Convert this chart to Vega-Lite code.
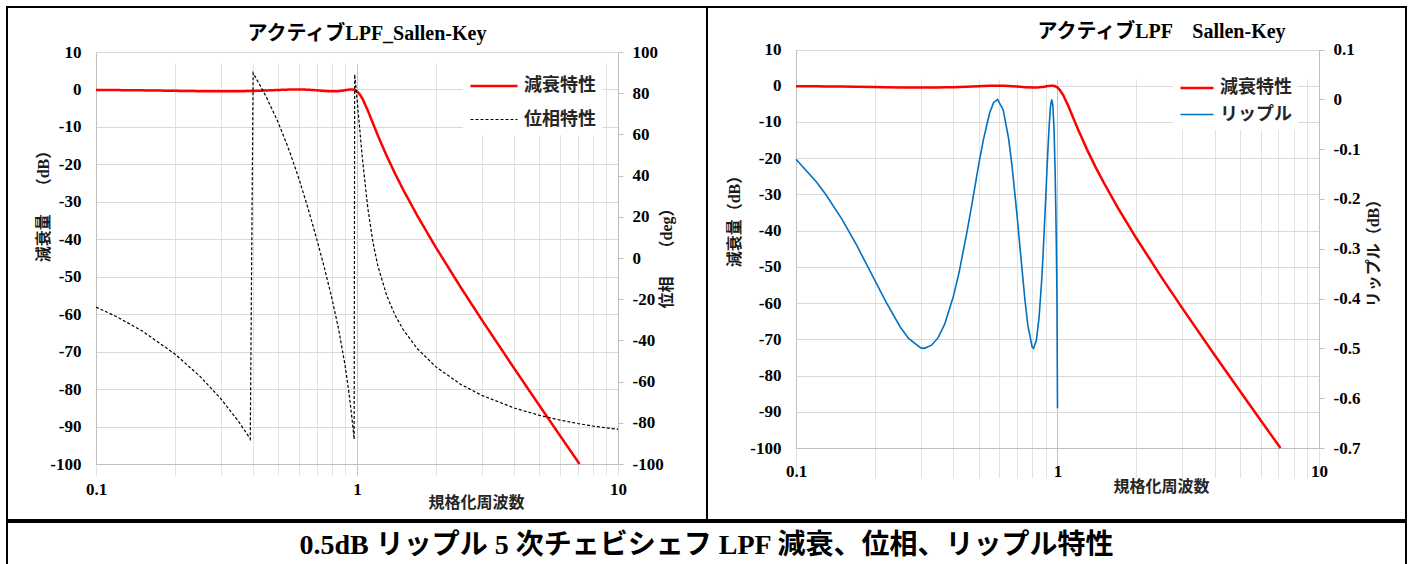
{
  "$schema": "https://vega.github.io/schema/vega-lite/v6.json",
  "background": "white",
  "padding": {"left": 6, "top": 6, "right": 8, "bottom": 0},
  "spacing": 0,
  "config": {
    "view": {"stroke": "#000000", "strokeWidth": 2},
    "axis": {"labelFont": "Liberation Serif", "labelFontSize": 17, "labelFontWeight": "bold", "labelColor": "#000000", "domainColor": "#bfbfbf", "domainWidth": 1, "gridColor": "#d9d9d9", "gridWidth": 1, "tickColor": "#bfbfbf", "titleColor": "#1a1a1a", "titleFont": "Liberation Serif, Noto Sans CJK JP", "titleFontSize": 16, "titleFontWeight": "bold"},
    "legend": {"labelFont": "Noto Sans CJK JP", "labelFontSize": 17, "labelFontWeight": "bold", "labelColor": "#262626", "fillColor": "#ffffff", "padding": 6, "labelOffset": 5, "symbolType": "stroke"}
  },
  "datasets": {
    "atten": [
      {"f": 0.1, "dB": -0.12}, {"f": 0.12, "dB": -0.17}, {"f": 0.13, "dB": -0.19}, {"f": 0.15, "dB": -0.24}, {"f": 0.17, "dB": -0.29},
      {"f": 0.2, "dB": -0.36}, {"f": 0.22, "dB": -0.41}, {"f": 0.25, "dB": -0.46}, {"f": 0.27, "dB": -0.48}, {"f": 0.3, "dB": -0.5},
      {"f": 0.31, "dB": -0.5}, {"f": 0.33, "dB": -0.49}, {"f": 0.35, "dB": -0.48}, {"f": 0.37, "dB": -0.45}, {"f": 0.4, "dB": -0.4},
      {"f": 0.42, "dB": -0.35}, {"f": 0.45, "dB": -0.27}, {"f": 0.47, "dB": -0.21}, {"f": 0.5, "dB": -0.13}, {"f": 0.52, "dB": -0.08},
      {"f": 0.55, "dB": -0.03}, {"f": 0.57, "dB": -0.01}, {"f": 0.59, "dB": 0}, {"f": 0.62, "dB": -0.02}, {"f": 0.65, "dB": -0.08},
      {"f": 0.67, "dB": -0.13}, {"f": 0.7, "dB": -0.23}, {"f": 0.72, "dB": -0.3}, {"f": 0.75, "dB": -0.4}, {"f": 0.77, "dB": -0.45},
      {"f": 0.8, "dB": -0.5}, {"f": 0.81, "dB": -0.5}, {"f": 0.83, "dB": -0.48}, {"f": 0.85, "dB": -0.44}, {"f": 0.87, "dB": -0.36},
      {"f": 0.88, "dB": -0.32}, {"f": 0.9, "dB": -0.21}, {"f": 0.91, "dB": -0.15}, {"f": 0.92, "dB": -0.1}, {"f": 0.93, "dB": -0.05},
      {"f": 0.94, "dB": -0.02}, {"f": 0.95, "dB": 0}, {"f": 0.96, "dB": -0.01}, {"f": 0.97, "dB": -0.06}, {"f": 0.98, "dB": -0.15},
      {"f": 0.99, "dB": -0.3}, {"f": 1.0, "dB": -0.5}, {"f": 1.02, "dB": -1.11}, {"f": 1.05, "dB": -2.49}, {"f": 1.1, "dB": -5.61},
      {"f": 1.15, "dB": -8.97}, {"f": 1.2, "dB": -12.16}, {"f": 1.3, "dB": -17.77}, {"f": 1.4, "dB": -22.52}, {"f": 1.5, "dB": -26.65},
      {"f": 1.7, "dB": -33.63}, {"f": 2, "dB": -42.04}, {"f": 2.5, "dB": -52.89}, {"f": 3, "dB": -61.4}, {"f": 4, "dB": -74.46},
      {"f": 5, "dB": -84.4}, {"f": 6, "dB": -92.46}, {"f": 7, "dB": -99.23}, {"f": 7.125, "dB": -100}
    ],
    "phase": [
      {"f": 0.1, "deg": -23.84}, {"f": 0.12, "deg": -28.48}, {"f": 0.15, "deg": -35.34}, {"f": 0.2, "deg": -46.49}, {"f": 0.25, "deg": -57.38},
      {"f": 0.3, "deg": -68.15}, {"f": 0.35, "deg": -79.0}, {"f": 0.38, "deg": -85.64}, {"f": 0.39, "deg": -87.91}, {"f": 0.4, "deg": 89.83},
      {"f": 0.45, "deg": 78.05}, {"f": 0.5, "deg": 65.53}, {"f": 0.55, "deg": 52.23}, {"f": 0.6, "deg": 38.24}, {"f": 0.65, "deg": 23.89},
      {"f": 0.7, "deg": 9.49}, {"f": 0.75, "deg": -4.77}, {"f": 0.8, "deg": -19.17}, {"f": 0.85, "deg": -34.44}, {"f": 0.9, "deg": -52.09},
      {"f": 0.93, "deg": -64.78}, {"f": 0.95, "deg": -74.45}, {"f": 0.96, "deg": -79.66}, {"f": 0.97, "deg": -85.15}, {"f": 0.975, "deg": -87.96},
      {"f": 0.98, "deg": 89.16}, {"f": 0.99, "deg": 83.27}, {"f": 1.0, "deg": 77.25}, {"f": 1.02, "deg": 65.09}, {"f": 1.05, "deg": 47.72},
      {"f": 1.1, "deg": 24.29}, {"f": 1.15, "deg": 7.98}, {"f": 1.2, "deg": -3.45}, {"f": 1.3, "deg": -18.31}, {"f": 1.4, "deg": -27.79},
      {"f": 1.5, "deg": -34.59}, {"f": 1.7, "deg": -43.93}, {"f": 2, "deg": -52.73}, {"f": 2.5, "deg": -61.37}, {"f": 3, "deg": -66.63},
      {"f": 4, "deg": -72.8}, {"f": 5, "deg": -76.37}, {"f": 6, "deg": -78.68}, {"f": 7, "deg": -80.34}, {"f": 8, "deg": -81.55}, {"f": 10, "deg": -83.2}
    ],
    "ripple": [
      {"f": 0.1, "r": -0.1205}, {"f": 0.12, "r": -0.1664}, {"f": 0.13, "r": -0.191}, {"f": 0.15, "r": -0.241}, {"f": 0.17, "r": -0.2914},
      {"f": 0.2, "r": -0.3629}, {"f": 0.22, "r": -0.405}, {"f": 0.25, "r": -0.4566}, {"f": 0.27, "r": -0.4805}, {"f": 0.3, "r": -0.499},
      {"f": 0.31, "r": -0.4999}, {"f": 0.33, "r": -0.4936}, {"f": 0.35, "r": -0.478}, {"f": 0.37, "r": -0.4518}, {"f": 0.4, "r": -0.3951},
      {"f": 0.42, "r": -0.3484}, {"f": 0.45, "r": -0.2682}, {"f": 0.47, "r": -0.2122}, {"f": 0.5, "r": -0.1303}, {"f": 0.52, "r": -0.0824},
      {"f": 0.55, "r": -0.0274}, {"f": 0.57, "r": -0.0063}, {"f": 0.59, "r": -0.0001}, {"f": 0.62, "r": -0.0214}, {"f": 0.65, "r": -0.0783},
      {"f": 0.67, "r": -0.133}, {"f": 0.7, "r": -0.2321}, {"f": 0.72, "r": -0.3021}, {"f": 0.75, "r": -0.4009}, {"f": 0.77, "r": -0.4534},
      {"f": 0.8, "r": -0.4972}, {"f": 0.81, "r": -0.5}, {"f": 0.83, "r": -0.4842}, {"f": 0.85, "r": -0.4387}, {"f": 0.87, "r": -0.3631},
      {"f": 0.88, "r": -0.3153}, {"f": 0.9, "r": -0.2067}, {"f": 0.91, "r": -0.1497}, {"f": 0.92, "r": -0.0961}, {"f": 0.93, "r": -0.0494},
      {"f": 0.94, "r": -0.0151}, {"f": 0.95, "r": 0}, {"f": 0.96, "r": -0.0121}, {"f": 0.97, "r": -0.0595}, {"f": 0.98, "r": -0.1512},
      {"f": 0.985, "r": -0.2162}, {"f": 0.99, "r": -0.2954}, {"f": 0.995, "r": -0.3898}, {"f": 1.0, "r": -0.62}
    ],
    "caption": [{"text": "0.5dB リップル 5 次チェビシェフ LPF 減衰、位相、リップル特性"}]
  },
  "vconcat": [
    {
      "hconcat": [
        {
          "width": 700,
          "height": 513,
          "title": {"text": "アクティブLPF_Sallen-Key", "font": "Liberation Serif, Noto Sans CJK JP", "fontSize": 20, "fontWeight": "bold", "color": "#000000", "anchor": "middle", "frame": "group", "dx": 10, "offset": -47, "baseline": "middle"},
          "layer": [
            {
              "data": {"name": "atten"},
              "mark": {"type": "line"},
              "encoding": {
                "x": {"field": "f", "type": "quantitative",
                  "scale": {"type": "log", "domain": [0.1, 10], "range": [89, 611], "nice": false},
                  "axis": {"orient": "bottom", "offset": -56, "values": [0.1, 0.2, 0.3, 0.4, 0.5, 0.6, 0.7, 0.8, 0.9, 1, 2, 3, 4, 5, 6, 7, 8, 9, 10],
                    "labelExpr": "datum.value == 0.1 ? '0.1' : datum.value == 1 ? '1' : datum.value == 10 ? '10' : ''",
                    "grid": true, "gridColor": {"condition": {"test": "datum.value == 1", "value": "#c4c4c4"}, "value": "#e2e2e2"},
                    "ticks": false, "tickSize": 0, "labelPadding": 17, "labelFlush": false, "labelOverlap": false,
                    "title": "規格化周波数", "titleX": 469, "titleY": 38, "titleAlign": "center", "titleBaseline": "middle",
                    "titleFont": "Noto Sans CJK JP", "titleFontSize": 16, "titleFontWeight": "bold", "titleColor": "#262626"}},
                "y": {"field": "dB", "type": "quantitative",
                  "scale": {"domain": [-100, 10], "range": [457, 45], "nice": false, "zero": false},
                  "axis": {"orient": "left", "offset": -89, "values": [10, 0, -10, -20, -30, -40, -50, -60, -70, -80, -90, -100],
                    "labelExpr": "replace(format(datum.value, '~g'), '\u2212', '-')",
                    "grid": true, "ticks": false, "tickSize": 0, "labelPadding": 15,
                    "title": "減衰量　 （dB）", "titleAngle": 270, "titleX": -53, "titleY": 195, "titleAlign": "center", "titleBaseline": "middle"}},
                "color": {"datum": "減衰特性", "type": "nominal",
                  "scale": {"domain": ["減衰特性", "位相特性"], "range": ["#ff0000", "#000000"]},
                  "legend": {"title": null, "orient": "none", "legendX": 456, "legendY": 48, "symbolSize": 2209, "rowPadding": -16, "labelFontSize": 18}},
                "strokeDash": {"datum": "減衰特性", "type": "nominal",
                  "scale": {"domain": ["減衰特性", "位相特性"], "range": [[1, 0], [3, 2]]}},
                "strokeWidth": {"datum": "減衰特性", "type": "nominal",
                  "scale": {"domain": ["減衰特性", "位相特性"], "range": [2.5, 1.2]}}
              }
            },
            {
              "data": {"name": "phase"},
              "mark": {"type": "line"},
              "encoding": {
                "x": {"field": "f", "type": "quantitative",
                  "scale": {"type": "log", "domain": [0.1, 10], "range": [89, 611], "nice": false},
                  "axis": {"orient": "bottom", "offset": -56, "values": [0.1, 0.2, 0.3, 0.4, 0.5, 0.6, 0.7, 0.8, 0.9, 1, 2, 3, 4, 5, 6, 7, 8, 9, 10],
                    "labelExpr": "datum.value == 0.1 ? '0.1' : datum.value == 1 ? '1' : datum.value == 10 ? '10' : ''",
                    "grid": true, "gridColor": {"condition": {"test": "datum.value == 1", "value": "#c4c4c4"}, "value": "#e2e2e2"},
                    "ticks": false, "tickSize": 0, "labelPadding": 17, "labelFlush": false, "labelOverlap": false,
                    "title": "規格化周波数", "titleX": 469, "titleY": 38, "titleAlign": "center", "titleBaseline": "middle",
                    "titleFont": "Noto Sans CJK JP", "titleFontSize": 16, "titleFontWeight": "bold", "titleColor": "#262626"}},
                "y": {"field": "deg", "type": "quantitative",
                  "scale": {"domain": [-100, 100], "range": [457, 45], "nice": false, "zero": false},
                  "axis": {"orient": "right", "offset": -89, "values": [100, 80, 60, 40, 20, 0, -20, -40, -60, -80, -100],
                    "labelExpr": "replace(format(datum.value, '~g'), '\u2212', '-')",
                    "grid": false, "ticks": true, "tickSize": 5, "labelPadding": 9,
                    "title": "位相　 （deg）", "titleAngle": 270, "titleX": 48, "titleY": 247, "titleAlign": "center", "titleBaseline": "middle"}},
                "color": {"datum": "位相特性", "type": "nominal"},
                "strokeDash": {"datum": "位相特性", "type": "nominal"},
                "strokeWidth": {"datum": "位相特性", "type": "nominal"}
              }
            }
          ],
          "resolve": {"scale": {"y": "independent"}, "axis": {"y": "independent"}}
        },
        {
          "width": 699,
          "height": 513,
          "title": {"text": "アクティブLPF　Sallen-Key", "font": "Liberation Serif, Noto Sans CJK JP", "fontSize": 20, "fontWeight": "bold", "color": "#000000", "anchor": "middle", "frame": "group", "dx": 105, "offset": -45, "baseline": "middle"},
          "layer": [
            {
              "data": {"name": "atten"},
              "mark": {"type": "line"},
              "encoding": {
                "x": {"field": "f", "type": "quantitative",
                  "scale": {"type": "log", "domain": [0.1, 10], "range": [89, 612], "nice": false},
                  "axis": {"orient": "bottom", "offset": -72, "values": [0.1, 0.2, 0.3, 0.4, 0.5, 0.6, 0.7, 0.8, 0.9, 1, 2, 3, 4, 5, 6, 7, 8, 9, 10],
                    "labelExpr": "datum.value == 0.1 ? '0.1' : datum.value == 1 ? '1' : datum.value == 10 ? '10' : ''",
                    "grid": true, "gridColor": {"condition": {"test": "datum.value == 1", "value": "#c4c4c4"}, "value": "#e2e2e2"},
                    "ticks": false, "tickSize": 0, "labelPadding": 15, "labelFlush": false, "labelOverlap": false,
                    "title": "規格化周波数", "titleX": 454, "titleY": 38, "titleAlign": "center", "titleBaseline": "middle",
                    "titleFont": "Noto Sans CJK JP", "titleFontSize": 16, "titleFontWeight": "bold", "titleColor": "#262626"}},
                "y": {"field": "dB", "type": "quantitative",
                  "scale": {"domain": [-100, 10], "range": [441, 42.5], "nice": false, "zero": false},
                  "axis": {"orient": "left", "offset": -89, "values": [10, 0, -10, -20, -30, -40, -50, -60, -70, -80, -90, -100],
                    "labelExpr": "replace(format(datum.value, '~g'), '\u2212', '-')",
                    "grid": true, "ticks": false, "tickSize": 0, "labelPadding": 15,
                    "title": "減衰量（dB）", "titleAngle": 270, "titleX": -62, "titleY": 210, "titleAlign": "center", "titleBaseline": "middle"}},
                "color": {"datum": "減衰特性", "type": "nominal",
                  "scale": {"domain": ["減衰特性", "リップル"], "range": ["#ff0000", "#0070c0"]},
                  "legend": {"title": null, "orient": "none", "legendX": 466, "legendY": 57, "symbolSize": 1089, "rowPadding": -2, "labelFontSize": 18}},
                "strokeWidth": {"datum": "減衰特性", "type": "nominal",
                  "scale": {"domain": ["減衰特性", "リップル"], "range": [2.5, 1.6]}}
              }
            },
            {
              "data": {"name": "ripple"},
              "mark": {"type": "line"},
              "encoding": {
                "x": {"field": "f", "type": "quantitative",
                  "scale": {"type": "log", "domain": [0.1, 10], "range": [89, 612], "nice": false},
                  "axis": {"orient": "bottom", "offset": -72, "values": [0.1, 0.2, 0.3, 0.4, 0.5, 0.6, 0.7, 0.8, 0.9, 1, 2, 3, 4, 5, 6, 7, 8, 9, 10],
                    "labelExpr": "datum.value == 0.1 ? '0.1' : datum.value == 1 ? '1' : datum.value == 10 ? '10' : ''",
                    "grid": true, "gridColor": {"condition": {"test": "datum.value == 1", "value": "#c4c4c4"}, "value": "#e2e2e2"},
                    "ticks": false, "tickSize": 0, "labelPadding": 15, "labelFlush": false, "labelOverlap": false,
                    "title": "規格化周波数", "titleX": 454, "titleY": 38, "titleAlign": "center", "titleBaseline": "middle",
                    "titleFont": "Noto Sans CJK JP", "titleFontSize": 16, "titleFontWeight": "bold", "titleColor": "#262626"}},
                "y": {"field": "r", "type": "quantitative",
                  "scale": {"domain": [-0.7, 0.1], "range": [441, 42.5], "nice": false, "zero": false},
                  "axis": {"orient": "right", "offset": -87, "values": [0.1, 0, -0.1, -0.2, -0.3, -0.4, -0.5, -0.6, -0.7],
                    "labelExpr": "replace(format(datum.value, '~g'), '\u2212', '-')",
                    "grid": false, "ticks": true, "tickSize": 5, "labelPadding": 9,
                    "title": "リップル（dB）", "titleAngle": 270, "titleX": 54, "titleY": 242, "titleAlign": "center", "titleBaseline": "middle"}},
                "color": {"datum": "リップル", "type": "nominal"},
                "strokeWidth": {"datum": "リップル", "type": "nominal"}
              }
            }
          ],
          "resolve": {"scale": {"y": "independent"}, "axis": {"y": "independent"}}
        }
      ],
      "spacing": 0,
      "bounds": "flush",
      "resolve": {
        "scale": {"color": "independent", "strokeWidth": "independent", "strokeDash": "independent"},
        "legend": {"color": "independent", "strokeWidth": "independent", "strokeDash": "independent"}
      }
    },
    {
      "width": 1399,
      "height": 43,
      "view": {"stroke": "#000000", "strokeWidth": 2},
      "data": {"name": "caption"},
      "mark": {"type": "text", "font": "Liberation Serif, Noto Sans CJK JP", "fontSize": 28, "fontWeight": "bold", "color": "#000000", "align": "center", "baseline": "middle", "dy": 2},
      "encoding": {"text": {"field": "text", "type": "nominal"}}
    }
  ]
}
